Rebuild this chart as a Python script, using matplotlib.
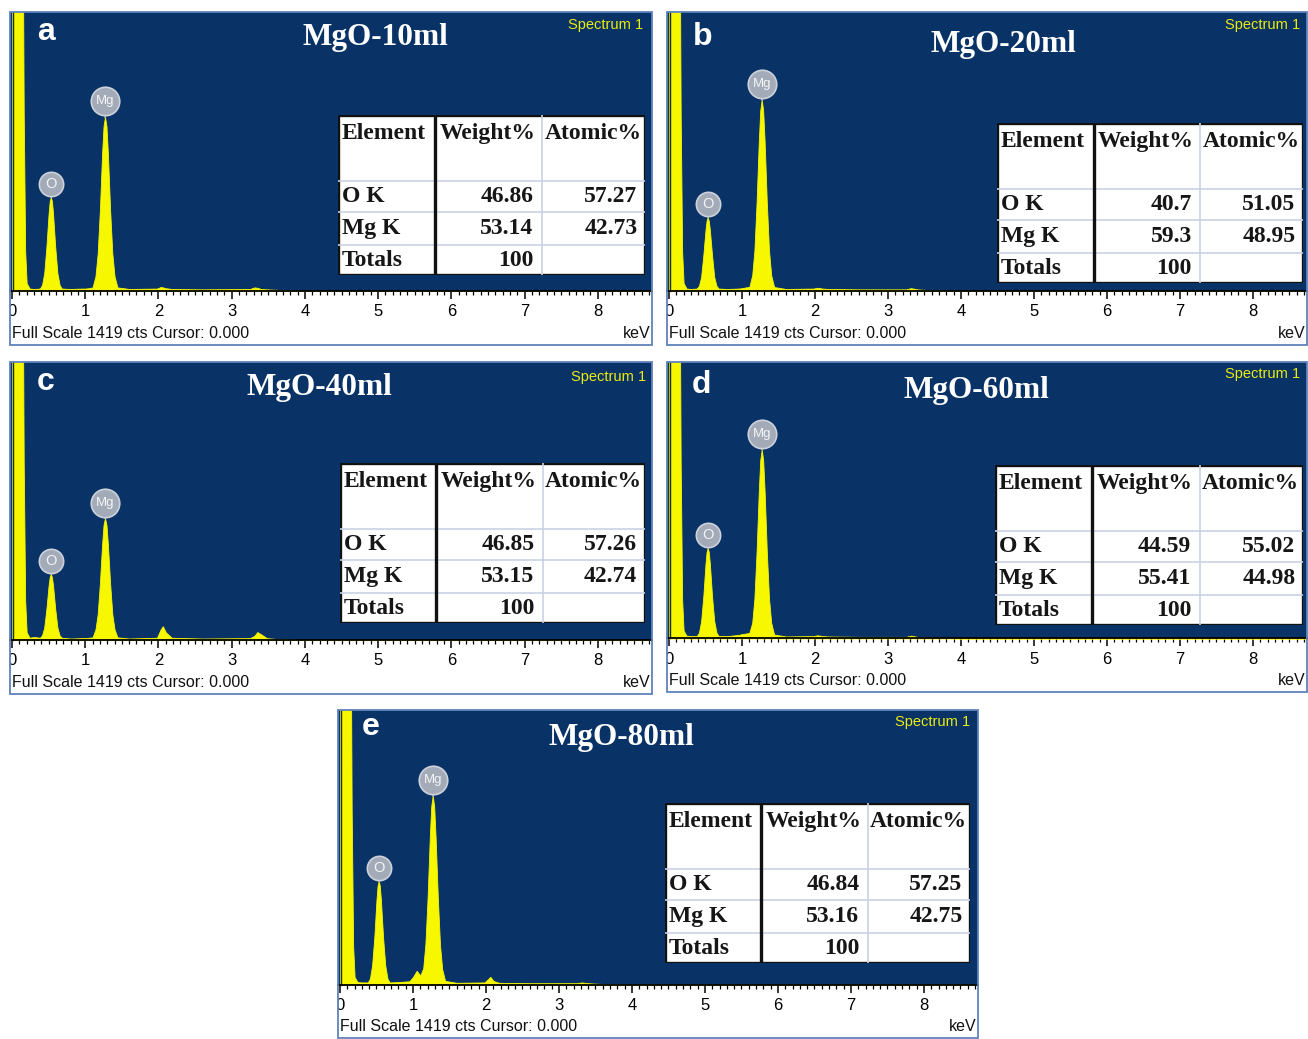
import matplotlib
matplotlib.use("Agg")
import matplotlib.pyplot as plt
from matplotlib.patches import Rectangle
from matplotlib.ticker import MultipleLocator
from matplotlib.transforms import offset_copy

plt.rcParams['font.family'] = ['Liberation Sans', 'DejaVu Sans']

FIG_W, FIG_H = 1308, 1039
FULL_SCALE = 1419          # cts at the top of every spectrum window
X_MAX = 8.74               # keV at the right edge of the window

# ---- data -------------------------------------------------------------
panel_letters = ['a', 'b', 'c', 'd', 'e']
sample_names = ['MgO-10ml', 'MgO-20ml', 'MgO-40ml', 'MgO-60ml', 'MgO-80ml']

# sampled EDS spectra (keV, cts)
energy_kev = [0.00, 0.13, 0.16, 0.18, 0.20, 0.24, 0.30,
              0.38, 0.41, 0.44, 0.47, 0.50, 0.515, 0.53, 0.545, 0.56, 0.59, 0.62, 0.65, 0.68,
              0.80, 0.95, 1.00, 1.05, 1.10,
              1.14, 1.17, 1.20, 1.23, 1.25, 1.27, 1.29, 1.31, 1.34, 1.37, 1.40, 1.44,
              1.60, 1.98, 2.03, 2.06, 2.10, 2.18, 2.60,
              3.25, 3.31, 3.35, 3.40, 3.48, 3.60, 4.00, 8.74]

counts_10ml = [3000, 3000, 900, 200, 40, 12, 10,
               12, 30, 90, 225, 395, 457, 477, 457, 395, 225, 90, 30, 12,
               10, 12, 12, 14, 18,
               75, 190, 410, 695, 838, 886, 838, 695, 410, 190, 75, 18,
               10, 12, 20, 18, 14, 10, 8,
               10, 18, 16, 10, 8, 6, 0, 0]
counts_20ml = [3000, 3000, 900, 200, 40, 12, 10,
               12, 26, 70, 180, 310, 357, 374, 357, 310, 180, 70, 26, 12,
               10, 12, 14, 18, 20,
               80, 205, 450, 760, 918, 973, 918, 760, 450, 205, 80, 20,
               10, 12, 16, 15, 12, 10, 8,
               8, 14, 12, 8, 6, 4, 0, 0]
counts_40ml = [3000, 3000, 900, 200, 40, 12, 16,
               12, 24, 64, 160, 280, 322, 337, 322, 280, 160, 64, 24, 12,
               8, 10, 10, 12, 14,
               55, 132, 288, 485, 588, 623, 588, 485, 288, 132, 55, 14,
               8, 12, 55, 71, 40, 12, 8,
               10, 22, 41, 30, 10, 6, 0, 0]
counts_60ml = [3000, 3000, 900, 200, 40, 14, 12,
               12, 30, 88, 215, 383, 444, 464, 444, 383, 215, 88, 30, 12,
               12, 18, 22, 25, 28,
               80, 205, 445, 755, 915, 970, 915, 755, 445, 205, 80, 20,
               10, 12, 16, 15, 12, 10, 8,
               8, 14, 12, 8, 6, 4, 0, 0]
counts_80ml = [3000, 3000, 900, 200, 40, 14, 12,
               12, 32, 100, 245, 440, 512, 535, 512, 440, 245, 100, 32, 12,
               14, 18, 40, 72, 48,
               85, 210, 450, 760, 922, 977, 922, 760, 450, 205, 80, 20,
               10, 12, 30, 41, 20, 10, 8,
               8, 12, 10, 8, 6, 4, 0, 0]
spectra = [counts_10ml, counts_20ml, counts_40ml, counts_60ml, counts_80ml]

# element markers (line energy in keV)
marker_elements = ['O', 'Mg']
marker_kev = [0.53, 1.27]

# quantification tables
table_elements = ['O K', 'Mg K', 'Totals']
weight_pct = [[46.86, 53.14, 100],
              [40.7, 59.3, 100],
              [46.85, 53.15, 100],
              [44.59, 55.41, 100],
              [46.84, 53.16, 100]]
atomic_pct = [[57.27, 42.73],
              [51.05, 48.95],
              [57.26, 42.74],
              [55.02, 44.98],
              [57.25, 42.75]]

# ---- layout (pixels, origin top-left) ---------------------------------
panel_boxes = [(10, 12, 652, 345), (667, 12, 1307, 345),
               (10, 362, 652, 694), (667, 362, 1307, 692),
               (338, 710, 978, 1038)]
table_boxes = [(338, 115, 645, 275), (997, 123, 1303, 283),
               (340, 463, 645, 623), (995, 465, 1303, 625),
               (665, 803, 970, 963)]
title_xy = [(375, 45), (1003, 52), (319, 395), (976, 398), (621, 745)]
letter_xy = [(37, 40), (693, 45), (37, 390), (692, 393), (362, 735)]
spectrum_xy = [(643, 29), (1300, 29), (646, 381), (1300, 378), (970, 726)]

BLUE = '#093366'
YELLOW = '#f7f700'
BORDER = '#5f82bb'
GRID = '#c9d2e4'
BUBBLE = '#a3abb9'


def px_rect(box):
    x0, y0, x1, y1 = box
    return [x0 / FIG_W, 1 - y1 / FIG_H, (x1 - x0) / FIG_W, (y1 - y0) / FIG_H]


def draw_table(fig, box, weights, atomics):
    tax = fig.add_axes(px_rect(box))
    tax.set_xlim(0, 1)
    tax.set_ylim(0, 1)
    tax.axis('off')
    tax.add_patch(Rectangle((0, 0), 1, 1, fc='white', ec='#111111', lw=2.4, zorder=1))
    col_x = [0, 0.316, 0.664, 1]
    row_y = [0.589, 0.392, 0.19]
    for y in row_y:
        tax.plot([0, 1], [y, y], color=GRID, lw=1.2, zorder=2)
    tax.plot([col_x[2]] * 2, [0, 1], color=GRID, lw=1.2, zorder=2)
    tax.plot([col_x[1]] * 2, [0, 1], color='#111111', lw=2.4, zorder=3)

    tfont = dict(family=['Liberation Serif', 'DejaVu Serif'], weight='bold',
                 fontsize=17, color='#161616', zorder=4)
    head_y = 0.882
    tax.text(0.012, head_y, 'Element', ha='left', va='center', **tfont)
    tax.text(col_x[1] + 0.014, head_y, 'Weight%', ha='left', va='center', **tfont)
    tax.text(col_x[2] + 0.008, head_y, 'Atomic%', ha='left', va='center', **tfont)

    text_y = [0.49, 0.288, 0.092]
    for i, name in enumerate(table_elements):
        tax.text(0.012, text_y[i], name, ha='left', va='center', **tfont)
        tax.text(col_x[2] - 0.027, text_y[i], f'{weights[i]:g}', ha='right',
                 va='center', **tfont)
        if i < len(atomics):
            tax.text(1 - 0.025, text_y[i], f'{atomics[i]:g}', ha='right',
                     va='center', **tfont)


fig = plt.figure(figsize=(FIG_W / 100, FIG_H / 100), dpi=100)

for k in range(5):
    box = panel_boxes[k]
    kev_px = 73.0
    ax = fig.add_axes(px_rect(box))
    ax.set_xlim(-2 / kev_px, X_MAX)
    ax.set_ylim(-275, FULL_SCALE)
    ax.set_facecolor('white')

    # blue spectrum window and the yellow spectrum
    ax.axhspan(0, FULL_SCALE, color=BLUE, lw=0, zorder=0)
    ax.fill_between(energy_kev, 0, spectra[k], color=YELLOW, lw=0.6,
                    edgecolor=YELLOW, zorder=2)
    ax.plot([0.012, 0.012], [0, FULL_SCALE], color='#1b2a20', lw=1.0, zorder=3)

    # energy axis
    for side in ['left', 'right', 'top']:
        ax.spines[side].set_visible(False)
    ax.spines['bottom'].set_position(('data', 0))
    ax.spines['bottom'].set_color('black')
    ax.spines['bottom'].set_linewidth(1.3)
    ax.spines['bottom'].set_zorder(4)
    ax.set_yticks([])
    ax.set_xticks(range(0, 9))
    ax.xaxis.set_minor_locator(MultipleLocator(0.1))
    ax.tick_params(axis='x', which='major', direction='out', length=5.5,
                   width=1.1, pad=4, labelsize=12, colors='black')
    ax.tick_params(axis='x', which='minor', direction='out', length=3,
                   width=0.9)
    for lbl in ax.get_xticklabels():
        lbl.set_clip_box(ax.bbox)
        lbl.set_clip_on(True)

    # element markers
    for el, e in zip(marker_elements, marker_kev):
        tip = spectra[k][energy_kev.index(e)]
        size = 20.5 if el == 'Mg' else 17.5
        lift = 11 if el == 'Mg' else 9.6
        trans = offset_copy(ax.transData, fig=fig, x=0, y=lift, units='points')
        ax.plot([e, e], [tip, tip + 20], color=BUBBLE, lw=1.2, zorder=5)
        ax.plot([e], [tip], marker='o', ms=size, mfc=BUBBLE, mec='#cdd1da',
                mew=1.2, transform=trans, zorder=6)
        ax.text(e, tip, el, transform=trans, ha='center', va='center',
                fontsize=9.5 if el == 'Mg' else 10.5, color='#f4f4f4', zorder=7)

    # footer
    ax.text(0.003, 0.036, 'Full Scale 1419 cts Cursor: 0.000', transform=ax.transAxes,
            ha='left', va='center', fontsize=11.5, color='#111111')
    ax.text(0.997, 0.036, 'keV', transform=ax.transAxes, ha='right', va='center',
            fontsize=11.5, color='#111111')

    # outer frame
    ax.add_patch(Rectangle((0, 0), 1, 1, transform=ax.transAxes, fill=False,
                           ec=BORDER, lw=1.3, clip_on=False, zorder=10))

    # panel texts
    tx, ty = title_xy[k]
    fig.text(tx / FIG_W, 1 - ty / FIG_H, sample_names[k], ha='center', va='baseline',
             family=['Liberation Serif', 'DejaVu Serif'], weight='bold',
             fontsize=22.5, color='white')
    lx, ly = letter_xy[k]
    fig.text(lx / FIG_W, 1 - ly / FIG_H, panel_letters[k], ha='left', va='baseline',
             weight='bold', fontsize=23, color='white')
    sx, sy = spectrum_xy[k]
    fig.text(sx / FIG_W, 1 - sy / FIG_H, 'Spectrum 1', ha='right', va='baseline',
             fontsize=10.5, color='#ecec10')

    draw_table(fig, table_boxes[k], weight_pct[k], atomic_pct[k])

fig.savefig('out.png', dpi=100)
